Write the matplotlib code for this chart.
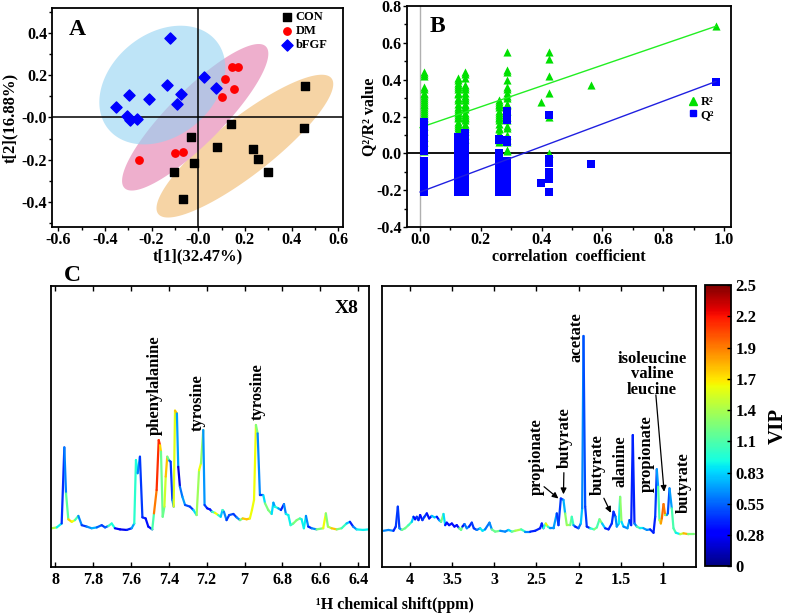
import numpy as np
import matplotlib
matplotlib.use('Agg')
import matplotlib.pyplot as plt
from matplotlib.collections import LineCollection
from matplotlib.patches import Polygon
from matplotlib.lines import Line2D
import matplotlib.colors as mcolors
from matplotlib.ticker import MultipleLocator, FuncFormatter, FixedLocator

plt.rcParams['font.family'] = ['Liberation Serif', 'DejaVu Serif']
plt.rcParams['font.weight'] = 'bold'
plt.rcParams['axes.labelweight'] = 'bold'
plt.rcParams['axes.unicode_minus'] = False

# ---------------- Panel A data (PCA scores) ----------------
con_x = [0.457, 0.453, 0.139, -0.029, 0.081, 0.233, 0.257, 0.300, -0.020, -0.104, -0.064]
con_y = [0.151, -0.052, -0.033, -0.095, -0.139, -0.149, -0.195, -0.257, -0.214, -0.257, -0.387]
dm_x = [0.143, 0.169, 0.113, 0.153, 0.104, -0.256, -0.101, -0.064]
dm_y = [0.241, 0.241, 0.185, 0.135, 0.098, -0.201, -0.168, -0.162]
bf_x = [-0.120, 0.026, 0.077, -0.136, -0.076, -0.093, -0.209, -0.296, -0.353, -0.307, -0.293, -0.264]
bf_y = [0.379, 0.192, 0.139, 0.154, 0.111, 0.062, 0.089, 0.109, 0.049, 0.006, -0.013, -0.005]

# confidence ellipses: centre, semi-axis vectors (data units)
ell_con = dict(c=(0.200, -0.136), u=(0.3715, 0.3220), v=(-0.0748, 0.1061))
ell_dm = dict(c=(-0.013, 0.001), u=(0.3030, 0.3362), v=(-0.0808, 0.0896))
ell_bf = dict(c=(-0.154, 0.154), u=(0.2320, 0.2084), v=(-0.1384, 0.1897))

# ---------------- Panel B data (permutation test) ----------------
perm_x = [0.012, 0.124, 0.149, 0.258, 0.286, 0.397, 0.424, 0.562, 0.973]
perm_r2 = [
    [0.44, 0.43, 0.42, 0.36, 0.35, 0.33, 0.32, 0.31, 0.30, 0.29, 0.28, 0.27, 0.26, 0.25,
     0.24, 0.23, 0.22, 0.21, 0.20, 0.19, 0.18, 0.15, 0.12, 0.09, 0.06, 0.03, 0.01],
    [0.41, 0.40, 0.38, 0.37, 0.36, 0.35, 0.33, 0.32, 0.30, 0.29, 0.27, 0.25, 0.24, 0.23,
     0.22, 0.21, 0.20, 0.19, 0.17, 0.16, 0.15, 0.14, 0.12, 0.11, 0.10, 0.08, 0.06, 0.04],
    [0.44, 0.43, 0.41, 0.37, 0.36, 0.35, 0.33, 0.31, 0.30, 0.29, 0.27, 0.26, 0.25, 0.24,
     0.22, 0.21, 0.20, 0.19, 0.18, 0.16, 0.15, 0.14, 0.12, 0.10, 0.08],
    [0.29, 0.28, 0.27, 0.26, 0.25, 0.23, 0.22, 0.21, 0.20, 0.19, 0.18, 0.16, 0.14, 0.13,
     0.11, 0.09, 0.07, 0.06],
    [0.55, 0.45, 0.44, 0.40, 0.36, 0.35, 0.33, 0.31, 0.30, 0.27, 0.26, 0.23, 0.20, 0.18,
     0.15, 0.14, 0.10, 0.07, 0.06, 0.02, 0.01],
    [0.28],
    [0.55, 0.51, 0.42, 0.33, 0.20, 0.00],
    [0.37],
    [0.69],
]
perm_q2 = [
    [0.17, 0.16, 0.13, 0.11, 0.09, 0.08, 0.06, 0.04, 0.03, 0.01, -0.04, -0.05, -0.06, -0.07,
     -0.08, -0.09, -0.10, -0.11, -0.12, -0.13, -0.14, -0.15, -0.16, -0.17, -0.18, -0.19, -0.20, -0.21],
    [0.09, 0.08, 0.06, 0.05, 0.04, 0.03, 0.02, 0.01, 0.00, -0.01, -0.02, -0.03, -0.04, -0.05,
     -0.06, -0.07, -0.08, -0.09, -0.10, -0.11, -0.12, -0.13, -0.14, -0.15, -0.16, -0.17,
     -0.18, -0.19, -0.20, -0.21],
    [0.11, 0.10, 0.06, 0.02, 0.01, 0.00, -0.01, -0.02, -0.03, -0.04, -0.05, -0.06, -0.07,
     -0.08, -0.09, -0.10, -0.11, -0.12, -0.13, -0.14, -0.15, -0.16, -0.17, -0.18, -0.19, -0.20, -0.21],
    [0.08, 0.07, 0.00, -0.01, -0.02, -0.03, -0.04, -0.05, -0.06, -0.07, -0.08, -0.09, -0.10,
     -0.11, -0.14, -0.15, -0.16, -0.17, -0.18, -0.19, -0.20, -0.21],
    [0.23, 0.22, 0.19, 0.18, 0.07, 0.06, -0.04, -0.05, -0.06, -0.07, -0.08, -0.09, -0.10,
     -0.11, -0.12, -0.15, -0.16, -0.17, -0.18, -0.19, -0.20, -0.21],
    [-0.16],
    [0.21, -0.03, -0.05, -0.10, -0.14, -0.21],
    [-0.06],
    [0.39],
]
fit_x = [0.0, 0.973]
fit_r2 = [0.14, 0.69]
fit_q2 = [-0.21, 0.39]

# ---------------- Panel C data (NMR spectra, VIP coloured) ----------------
arom_ppm = [8.018, 7.991, 7.965, 7.951, 7.942, 7.930, 7.912, 7.895, 7.877, 7.859, 7.833, 7.807,
            7.780, 7.754, 7.736, 7.719, 7.701, 7.684, 7.657, 7.622, 7.596, 7.582, 7.573, 7.564,
            7.552, 7.539, 7.522, 7.508, 7.487, 7.478, 7.464, 7.453, 7.446, 7.441, 7.432, 7.423,
            7.416, 7.408, 7.397, 7.390, 7.381, 7.374, 7.367, 7.357, 7.350, 7.341, 7.328, 7.314,
            7.288, 7.270, 7.253, 7.240, 7.230, 7.218, 7.211, 7.197, 7.182, 7.172, 7.156, 7.139,
            7.126, 7.116, 7.109, 7.095, 7.081, 7.059, 7.042, 7.024, 7.010, 6.989, 6.972, 6.961,
            6.950, 6.940, 6.931, 6.919, 6.901, 6.892, 6.875, 6.857, 6.848, 6.840, 6.822, 6.808,
            6.792, 6.782, 6.769, 6.757, 6.743, 6.725, 6.708, 6.699, 6.687, 6.676, 6.664, 6.646,
            6.620, 6.585, 6.571, 6.560, 6.541, 6.514, 6.488, 6.462, 6.444, 6.427, 6.409, 6.374, 6.347]
arom_int = [0.137, 0.140, 0.154, 0.425, 0.261, 0.169, 0.160, 0.166, 0.181, 0.148, 0.143, 0.137,
            0.140, 0.148, 0.140, 0.145, 0.154, 0.137, 0.133, 0.131, 0.137, 0.154, 0.380, 0.333,
            0.392, 0.176, 0.172, 0.143, 0.133, 0.190, 0.273, 0.451, 0.433, 0.410, 0.178, 0.214,
            0.321, 0.392, 0.378, 0.374, 0.238, 0.214, 0.556, 0.546, 0.356, 0.285, 0.249, 0.220,
            0.214, 0.202, 0.184, 0.344, 0.368, 0.487, 0.220, 0.208, 0.204, 0.196, 0.192, 0.184,
            0.178, 0.202, 0.196, 0.166, 0.184, 0.188, 0.176, 0.166, 0.172, 0.169, 0.172, 0.202,
            0.238, 0.505, 0.475, 0.255, 0.255, 0.226, 0.202, 0.188, 0.228, 0.214, 0.208, 0.202,
            0.223, 0.188, 0.184, 0.148, 0.154, 0.166, 0.172, 0.169, 0.137, 0.181, 0.143, 0.137,
            0.133, 0.137, 0.190, 0.143, 0.137, 0.133, 0.137, 0.154, 0.160, 0.143, 0.133, 0.131, 0.133]
arom_vip = [1.4, 1.4, 0.4, 0.45, 0.8, 1.5, 1.9, 1.3, 0.9, 0.4, 0.5, 0.8,
            0.7, 0.4, 0.5, 0.6, 1.5, 0.4, 0.2, 0.3, 0.5, 0.9, 1.1, 0.8,
            0.5, 0.4, 0.4, 0.3, 0.4, 1.8, 2.1, 2.2, 2.1, 1.3, 1.1, 1.3,
            1.7, 1.8, 0.6, 0.5, 0.4, 0.9, 2.2, 1.3, 0.1, 0.3, 0.9, 0.5,
            0.5, 0.4, 1.3, 1.4, 1.8, 0.85, 0.5, 0.4, 0.3, 0.5, 1.6, 1.6,
            0.4, 1.2, 0.9, 0.4, 0.5, 0.5, 0.4, 0.9, 1.6, 1.9, 1.6, 1.6,
            1.6, 1.6, 0.9, 0.4, 0.5, 1.2, 1.3, 1.2, 0.5, 0.9, 1.0, 0.4,
            0.4, 0.9, 0.9, 0.9, 1.2, 1.3, 1.2, 0.9, 0.9, 0.9, 0.4, 0.4,
            0.9, 1.6, 1.6, 0.9, 1.9, 1.6, 0.9, 1.2, 0.4, 0.4, 0.9, 0.9, 0.9]

aliph_ppm = [4.317, 4.257, 4.198, 4.170, 4.146, 4.127, 4.099, 4.059, 4.020, 3.980, 3.960, 3.941,
             3.921, 3.901, 3.881, 3.854, 3.830, 3.802, 3.774, 3.743, 3.711, 3.683, 3.656, 3.632,
             3.604, 3.584, 3.565, 3.537, 3.505, 3.474, 3.446, 3.418, 3.395, 3.379, 3.355, 3.327,
             3.300, 3.268, 3.244, 3.209, 3.169, 3.141, 3.110, 3.058, 3.030, 2.991, 2.931, 2.872,
             2.833, 2.793, 2.753, 2.682, 2.635, 2.575, 2.516, 2.457, 2.437, 2.417, 2.390, 2.366,
             2.338, 2.298, 2.259, 2.239, 2.211, 2.180, 2.160, 2.140, 2.100, 2.081, 2.061, 2.041,
             2.002, 1.974, 1.958, 1.942, 1.922, 1.903, 1.863, 1.816, 1.784, 1.752, 1.721, 1.685,
             1.645, 1.606, 1.586, 1.562, 1.547, 1.523, 1.507, 1.491, 1.467, 1.420, 1.396, 1.376,
             1.357, 1.337, 1.309, 1.270, 1.230, 1.190, 1.151, 1.111, 1.091, 1.072, 1.056, 1.040,
             1.024, 1.012, 0.992, 0.973, 0.953, 0.941, 0.921, 0.894, 0.874, 0.846, 0.795, 0.755,
             0.696, 0.628]
aliph_int = [0.128, 0.131, 0.128, 0.143, 0.214, 0.137, 0.131, 0.137, 0.148, 0.160, 0.178, 0.169,
             0.178, 0.166, 0.184, 0.166, 0.178, 0.190, 0.172, 0.181, 0.176, 0.178, 0.166, 0.160,
             0.188, 0.148, 0.157, 0.148, 0.154, 0.143, 0.148, 0.137, 0.131, 0.143, 0.152, 0.137,
             0.143, 0.157, 0.137, 0.131, 0.137, 0.128, 0.133, 0.157, 0.133, 0.125, 0.128, 0.125,
             0.131, 0.125, 0.128, 0.133, 0.125, 0.125, 0.128, 0.137, 0.154, 0.137, 0.154, 0.143,
             0.137, 0.137, 0.190, 0.148, 0.243, 0.238, 0.190, 0.148, 0.148, 0.178, 0.148, 0.143,
             0.137, 0.154, 0.208, 0.822, 0.214, 0.143, 0.137, 0.133, 0.140, 0.169, 0.154, 0.137,
             0.133, 0.154, 0.196, 0.178, 0.143, 0.154, 0.249, 0.160, 0.143, 0.137, 0.166, 0.148,
             0.469, 0.154, 0.143, 0.137, 0.137, 0.131, 0.133, 0.121, 0.178, 0.347, 0.285, 0.166,
             0.154, 0.172, 0.223, 0.184, 0.184, 0.190, 0.279, 0.208, 0.137, 0.121, 0.116, 0.119,
             0.116, 0.116]
aliph_vip = [0.4, 0.9, 0.4, 0.4, 0.5, 0.4, 0.9, 1.5, 0.9, 1.2, 0.4, 0.3,
             0.4, 0.5, 0.3, 0.4, 0.5, 0.4, 0.3, 0.4, 1.2, 0.4, 0.3, 1.2,
             1.3, 0.4, 0.3, 0.4, 0.3, 0.4, 0.3, 0.4, 2.0, 0.4, 0.3, 0.9,
             0.4, 0.4, 0.5, 0.4, 0.9, 0.9, 0.8, 0.4, 0.9, 1.5, 0.9, 0.4,
             0.9, 0.8, 1.6, 1.2, 0.9, 0.4, 0.4, 0.4, 0.4, 0.4, 1.6, 1.6,
             0.4, 0.9, 0.5, 0.4, 0.5, 0.4, 1.1, 1.5, 1.2, 1.2, 0.9, 0.4,
             0.4, 0.8, 0.8, 0.5, 0.5, 0.4, 0.4, 1.6, 0.9, 1.3, 1.2, 0.4,
             0.4, 0.4, 0.45, 0.4, 0.9, 0.5, 1.3, 1.3, 0.4, 0.9, 0.5, 0.4,
             0.4, 0.4, 0.9, 1.3, 0.5, 0.9, 0.4, 0.4, 0.4, 0.5, 0.9, 1.3,
             1.6, 2.1, 1.9, 2.0, 0.9, 0.5, 0.5, 0.9, 1.3, 0.9, 0.9, 2.0,
             1.6, 0.9]

cbar_ticks = [0, 0.2778, 0.5556, 0.8333, 1.1111, 1.3889, 1.6667, 1.9444, 2.2222, 2.5]
cbar_labels = ['0', '0.28', '0.55', '0.83', '1.1', '1.4', '1.7', '1.9', '2.2', '2.5']

# ---------------- Figure ----------------
fig = plt.figure(figsize=(7.87, 6.14), dpi=100)
TF = 11.5

def ellipse_pts(e, n=200):
    t = np.linspace(0, 2 * np.pi, n)
    cx, cy = e['c']; ux, uy = e['u']; vx, vy = e['v']
    return np.column_stack([cx + ux * np.cos(t) + vx * np.sin(t),
                            cy + uy * np.cos(t) + vy * np.sin(t)])

# ---- Panel A ----
axA = fig.add_axes([0.0661, 0.6303, 0.3698, 0.3567])
axA.add_patch(Polygon(ellipse_pts(ell_con), closed=True, fc='#F6D4A5', ec='none', zorder=1))
axA.add_patch(Polygon(ellipse_pts(ell_dm), closed=True, fc='#EEAFCD', ec='none', zorder=1.1))
axA.add_patch(Polygon(ellipse_pts(ell_bf), closed=True, fc='#93D2F2', ec='none', alpha=0.6, zorder=1.2))
axA.axhline(0, color='black', lw=1.1, zorder=2)
axA.axvline(0, color='black', lw=1.1, zorder=2)
axA.scatter(con_x, con_y, marker='s', s=26, c='black', zorder=3, label='CON')
axA.scatter(dm_x, dm_y, marker='o', s=28, c='red', zorder=3, label='DM')
axA.scatter(bf_x, bf_y, marker='D', s=32, c='blue', zorder=3, label='bFGF')
axA.set_xlim(-0.627, 0.621)
axA.set_ylim(-0.52, 0.52)
axA.xaxis.set_major_locator(MultipleLocator(0.2))
axA.xaxis.set_minor_locator(MultipleLocator(0.1))
axA.yaxis.set_major_locator(FixedLocator([-0.4, -0.2, 0.0, 0.2, 0.4]))
axA.yaxis.set_minor_locator(MultipleLocator(0.1))
fmtA = FuncFormatter(lambda v, p: '-0.0' if abs(v) < 1e-9 else f'{v:.1f}')
axA.xaxis.set_major_formatter(fmtA)
axA.yaxis.set_major_formatter(fmtA)
axA.tick_params(which='both', direction='out', labelsize=TF, width=1, pad=0.5)
axA.tick_params(which='major', length=3)
axA.tick_params(which='minor', length=2.2)
axA.set_xlabel('t[1](32.47%)', fontsize=12)
axA.xaxis.set_label_coords(0.5, -0.098)
axA.set_ylabel('t[2](16.88%)', fontsize=12)
axA.yaxis.set_label_coords(-0.115, 0.5)
for s in axA.spines.values():
    s.set_linewidth(1.3)
axA.text(0.086, 0.90, 'A', transform=axA.transAxes, fontsize=17, ha='center', va='center')
axA.legend(loc='upper left', bbox_to_anchor=(0.755, 1.02), frameon=False,
           prop={'size': 9, 'weight': 'bold'}, handletextpad=0.1, labelspacing=0.15,
           handlelength=1.2, borderaxespad=0.2)

# ---- Panel B ----
axB = fig.add_axes([0.5168, 0.6303, 0.4117, 0.3599])
axB.axvline(0.0, color='#b0b0b0', lw=1.0, zorder=1)
axB.axhline(0.0, color='black', lw=1.3, zorder=1.5)
for xv, vals in zip(perm_x, perm_r2):
    axB.scatter([xv] * len(vals), vals, marker='^', s=34, c='#00E000', linewidths=0, zorder=2)
axB.plot(fit_x, fit_r2, color='#22EE22', lw=1.0, zorder=2.5)
for xv, vals in zip(perm_x, perm_q2):
    axB.scatter([xv] * len(vals), vals, marker='s', s=26, c='#0000FF', linewidths=0, zorder=3)
axB.plot(fit_x, fit_q2, color='#2020E0', lw=1.0, zorder=3.5)
axB.set_xlim(-0.044, 1.022)
axB.set_ylim(-0.4, 0.8)
axB.xaxis.set_major_locator(MultipleLocator(0.2))
axB.xaxis.set_minor_locator(MultipleLocator(0.1))
axB.yaxis.set_major_locator(MultipleLocator(0.2))
axB.yaxis.set_minor_locator(MultipleLocator(0.1))
axB.xaxis.set_major_formatter(FuncFormatter(lambda v, p: f'{v:.1f}'))
axB.yaxis.set_major_formatter(FuncFormatter(lambda v, p: '0.0' if abs(v) < 1e-9 else f'{v:.1f}'))
axB.tick_params(which='both', direction='out', labelsize=TF, width=1, pad=0.5)
axB.tick_params(which='major', length=3)
axB.tick_params(which='minor', length=2.2)
axB.set_xlabel('correlation  coefficient', fontsize=TF)
axB.xaxis.set_label_coords(0.5, -0.1)
axB.set_ylabel('Q²/R² value', fontsize=TF)
axB.yaxis.set_label_coords(-0.092, 0.5)
for s in axB.spines.values():
    s.set_linewidth(1.3)
axB.text(0.094, 0.906, 'B', transform=axB.transAxes, fontsize=17, ha='center', va='center')
hB = [Line2D([], [], marker='^', ls='none', color='#00E000', ms=6, label='R²'),
      Line2D([], [], marker='s', ls='none', color='#0000FF', ms=5, label='Q²')]
axB.legend(handles=hB, loc='upper left', bbox_to_anchor=(0.845, 0.615), frameon=False,
           prop={'size': 9, 'weight': 'bold'}, handletextpad=0.0, labelspacing=0.05,
           handlelength=1.2, borderaxespad=0.0)

# ---- Panel C ----
cmap = plt.get_cmap('jet')
norm = mcolors.Normalize(vmin=0, vmax=2.5)

def spectrum(ax, ppm, inten, vip):
    pts = np.column_stack([ppm, inten])
    segs = np.stack([pts[:-1], pts[1:]], axis=1)
    vv = 0.5 * (np.asarray(vip[:-1]) + np.asarray(vip[1:]))
    lc = LineCollection(segs, cmap=cmap, norm=norm, linewidths=1.6, capstyle='round',
                        joinstyle='round')
    lc.set_array(vv)
    ax.add_collection(lc)

axL = fig.add_axes([0.0644, 0.0770, 0.4048, 0.4572])
axR = fig.add_axes([0.4858, 0.0770, 0.3982, 0.4572])
spectrum(axL, arom_ppm, arom_int, arom_vip)
spectrum(axR, aliph_ppm, aliph_int, aliph_vip)
axL.set_xlim(8.023, 6.342)
axR.set_xlim(4.33, 0.61)
for ax in (axL, axR):
    ax.set_ylim(0, 1)
    ax.set_yticks([])
    ax.tick_params(axis='x', direction='in', top=True, labelsize=TF, length=3.5, width=1)
    ax.xaxis.set_major_formatter(FuncFormatter(lambda v, p: f'{v:g}'))
    for s in ax.spines.values():
        s.set_linewidth(1.3)
axL.xaxis.set_major_locator(MultipleLocator(0.2))
axR.xaxis.set_major_locator(MultipleLocator(0.5))

axL.text(0.965, 0.92, 'X8', transform=axL.transAxes, fontsize=14, ha='right', va='center')
lab = dict(rotation=90, ha='center', va='bottom', fontsize=12)
axL.text(7.473, 0.469, 'phenylalanine', **lab)
axL.text(7.249, 0.485, 'tyrosine', **lab)
axL.text(6.928, 0.523, 'tyrosine', **lab)

axR.text(2.496, 0.255, 'propionate', **lab)
axR.text(2.160, 0.350, 'butyrate', **lab)
axR.text(2.020, 0.730, 'acetate', **lab)
axR.text(1.776, 0.255, 'butyrate', **lab)
axR.text(1.507, 0.285, 'alanine', **lab)
axR.text(1.190, 0.267, 'propionate', **lab)
axR.text(0.747, 0.192, 'butyrate', **lab)
axR.text(1.130, 0.685, 'isoleucine\nvaline\nleucine', ha='center', va='center',
         fontsize=12, linespacing=0.95)
arr = dict(arrowstyle='-|>,head_length=0.35,head_width=0.17', color='black', lw=0.9,
           shrinkA=0, shrinkB=0)
axR.annotate('', xy=(2.24, 0.243), xytext=(2.41, 0.285), arrowprops=arr)
axR.annotate('', xy=(2.18, 0.258), xytext=(2.175, 0.335), arrowprops=arr)
axR.annotate('', xy=(1.617, 0.192), xytext=(1.70, 0.244), arrowprops=arr)
axR.annotate('', xy=(0.985, 0.267), xytext=(1.083, 0.612), arrowprops=arr)

fig.text(0.0915, 0.552, 'C', fontsize=17, ha='center', va='center')
fig.text(0.502, 0.0147, '¹H chemical shift(ppm)', fontsize=TF, ha='center', va='center')

# colorbar
cax = fig.add_axes([0.8958, 0.0774, 0.0327, 0.4585])
cb = matplotlib.colorbar.ColorbarBase(cax, cmap=cmap, norm=norm, orientation='vertical')
cb.set_ticks(cbar_ticks)
cb.set_ticklabels(cbar_labels)
cb.ax.tick_params(labelsize=12, direction='in', length=3, width=1)
cb.outline.set_linewidth(1.3)
cb.set_label('VIP', fontsize=15)
cb.ax.yaxis.set_label_coords(2.42, 0.5)

fig.savefig('out.png', dpi=100)
